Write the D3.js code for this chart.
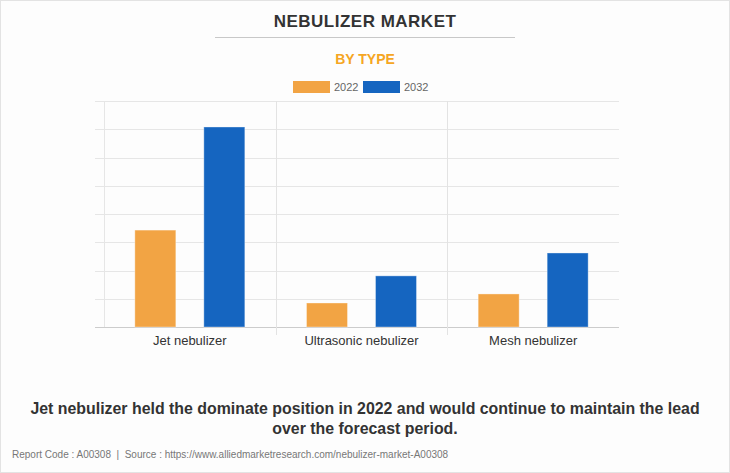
<!DOCTYPE html>
<html><head><meta charset="utf-8">
<script src="https://cdn.jsdelivr.net/npm/d3@7"></script>
<style>body{margin:0;background:#fff;}svg{display:block;font-family:Arial,"Liberation Sans",sans-serif;}</style>
</head><body>
<svg id="c" width="730" height="473"></svg>
<script>
const categories = ["Jet nebulizer", "Ultrasonic nebulizer", "Mesh nebulizer"];
const seriesNames = ["2022", "2032"];
const values2022 = [343, 85, 117];
const values2032 = [708, 181, 262];
const yTicks = [0, 100, 200, 300, 400, 500, 600, 700, 800];
const colors = ["#f2a444", "#1565c0"];

(function(){
const svg = d3.select("#c");
svg.append("rect").attr("x",0.5).attr("y",0.5).attr("width",729).attr("height",472)
  .attr("fill","#fdfdfd").attr("stroke","#e3e3e3");

svg.append("text").attr("x",365).attr("y",27).attr("text-anchor","middle")
  .attr("font-size",17).attr("font-weight","bold").attr("fill","#333").attr("letter-spacing",0.5)
  .text("NEBULIZER MARKET");
svg.append("line").attr("x1",215).attr("x2",515).attr("y1",37.5).attr("y2",37.5).attr("stroke","#c8c8c8");
svg.append("text").attr("x",365).attr("y",64).attr("text-anchor","middle")
  .attr("font-size",14).attr("font-weight","bold").attr("fill","#f5a623").text("BY TYPE");

const leg = svg.append("g");
[[293,334],[363,404]].forEach((p,i)=>{
  leg.append("rect").attr("x",p[0]).attr("y",81).attr("width",37).attr("height",12).attr("fill",colors[i]);
  leg.append("text").attr("x",p[1]).attr("y",91).attr("font-size",11).attr("fill","#666").text(seriesNames[i]);
});

const pl=104, pr=619, pt=101, pb=327;
const x0 = d3.scaleBand().domain(categories).range([pl,pr]);
const x1 = d3.scaleBand().domain(seriesNames).range([0,x0.bandwidth()]).paddingInner(0.406).paddingOuter(0.447);
const y = d3.scaleLinear().domain([0,800]).range([pb,pt]);

svg.append("g").selectAll("line").data(yTicks).join("line")
  .attr("x1",95).attr("x2",pr).attr("y1",d=>Math.round(y(d))+0.5).attr("y2",d=>Math.round(y(d))+0.5)
  .attr("stroke",d=>d===0?"#ccc":"#e6e6e6");
svg.append("line").attr("x1",pl+0.5).attr("x2",pl+0.5).attr("y1",pt).attr("y2",pb).attr("stroke","#e6e6e6");
svg.append("g").selectAll("line").data(categories.slice(1)).join("line")
  .attr("x1",d=>Math.round(x0(d))+0.5).attr("x2",d=>Math.round(x0(d))+0.5)
  .attr("y1",pt).attr("y2",pb+8).attr("stroke","#e3e3e3");

const data = categories.map((c,i)=>({c, v:[values2022[i], values2032[i]]}));
const g = svg.append("g");
data.forEach(d=>{
  g.selectAll(null).data(d.v.map((v,j)=>({s:seriesNames[j],v,j}))).join("rect")
    .attr("x",e=>x0(d.c)+x1(e.s)).attr("width",x1.bandwidth())
    .attr("y",e=>y(e.v)).attr("height",e=>pb-y(e.v))
    .attr("fill",e=>colors[e.j]).attr("stroke","rgba(255,255,255,0.35)").attr("stroke-width",1);
});

const xa = d3.axisBottom(x0).tickSize(0).tickPadding(9);
const xg = svg.append("g").attr("transform",`translate(0,${pb})`).call(xa);
xg.select(".domain").remove();
xg.selectAll("text").attr("font-size",13).attr("fill","#333").attr("font-family","Arial,'Liberation Sans',sans-serif");

svg.append("text").attr("x",365).attr("y",414).attr("text-anchor","middle")
  .attr("font-size",15.9).attr("font-weight","bold").attr("fill","#333")
  .text("Jet nebulizer held the dominate position in 2022 and would continue to maintain the lead");
svg.append("text").attr("x",365).attr("y",434).attr("text-anchor","middle")
  .attr("font-size",15.9).attr("font-weight","bold").attr("fill","#333")
  .text("over the forecast period.");
svg.append("text").attr("x",12).attr("y",458).attr("font-size",10).attr("fill","#777")
  .text("Report Code : A00308\u00a0 |\u00a0 Source : https://www.alliedmarketresearch.com/nebulizer-market-A00308");
})();
</script>
</body></html>
